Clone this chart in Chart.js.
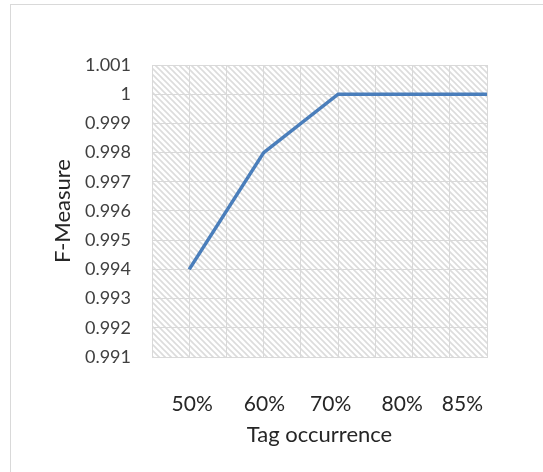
<!DOCTYPE html>
<html>
<head>
<meta charset="utf-8">
<script src="https://cdn.jsdelivr.net/npm/chart.js@4.4.1/dist/chart.umd.min.js"></script>
<style>
  html, body { margin: 0; padding: 0; background: #fff; }
  body { width: 543px; height: 472px; overflow: hidden; position: relative; }
  #frame { position: absolute; left: 10px; top: 4px; width: 620px; height: 540px;
           border: 1.5px solid #d9d9d9; box-sizing: border-box; }
  #wrap { position: absolute; left: 0; top: 0; width: 543px; height: 472px; }
</style>
</head>
<body>
<div id="frame"></div>
<div id="wrap"><canvas id="chart" width="543" height="472"></canvas></div>
<script>
// Tag occurrence thresholds and the F-Measure reached at each
const categories = ['50%', '60%', '70%', '80%', '85%'];
const fMeasure = [0.994, 0.998, 1, 1, 1];
const yTicks = [0.991, 0.992, 0.993, 0.994, 0.995, 0.996, 0.997, 0.998, 0.999, 1, 1.001];

// Category i sits at x = i + 1; vertical gridlines every half step
const gridSteps = [0.5, 1, 1.5, 2, 2.5, 3, 3.5, 4, 4.5, 5];
// Where the category captions are centred along the axis
const captionAt = [1.04, 2.01, 2.9, 3.86, 4.67];

const FONT = 'Lato, "Open Sans", sans-serif';

// Light downward-diagonal hatch for the plot background
function hatchPattern(ctx) {
  const s = 6;
  const c = document.createElement('canvas');
  c.width = s; c.height = s;
  const g = c.getContext('2d');
  g.fillStyle = '#ffffff';
  g.fillRect(0, 0, s, s);
  g.strokeStyle = '#dcdcdc';
  g.lineWidth = 1.6;
  g.beginPath();
  g.moveTo(-1, -1); g.lineTo(s + 1, s + 1);
  g.moveTo(-1, s - 1); g.lineTo(1, s + 1);
  g.moveTo(s - 1, -1); g.lineTo(s + 1, 1);
  g.stroke();
  return ctx.createPattern(c, 'repeat');
}

const hatchPlugin = {
  id: 'hatch',
  beforeDraw(chart) {
    const { ctx, chartArea: a } = chart;
    ctx.save();
    ctx.fillStyle = hatchPattern(ctx);
    ctx.fillRect(a.left, a.top, a.right - a.left, a.bottom - a.top);
    ctx.restore();
  }
};

new Chart(document.getElementById('chart'), {
  type: 'line',
  data: {
    datasets: [{
      data: fMeasure.map((v, i) => ({ x: i + 1, y: v })),
      borderColor: '#4a7ebb',
      borderWidth: 3.5,
      pointRadius: 0,
      tension: 0,
      fill: false,
      clip: false
    }]
  },
  options: {
    responsive: false,
    animation: false,
    events: [],
    layout: { padding: { left: 50, top: 65, right: 56, bottom: 23 } },
    plugins: { legend: { display: false }, tooltip: { enabled: false } },
    scales: {
      x: {
        type: 'linear',
        position: 'bottom',
        weight: 0,
        min: 0.5, max: 5,
        afterBuildTicks: s => { s.ticks = gridSteps.map(v => ({ value: v })); },
        afterFit: s => { s.height = 0; },
        ticks: { display: false },
        grid: { color: '#d9d9d9', lineWidth: 1, drawTicks: false },
        border: { color: '#d9d9d9', width: 1 }
      },
      x2: {
        type: 'linear',
        position: 'bottom',
        weight: 1,
        min: 0.5, max: 5,
        afterBuildTicks: s => { s.ticks = captionAt.map(v => ({ value: v })); },
        afterFit: s => { s.height = 92; },
        ticks: {
          autoSkip: false, maxRotation: 0, padding: 35,
          color: '#262626',
          font: { family: FONT, size: 21 },
          callback: (v, i) => categories[i]
        },
        grid: { display: false, drawTicks: false },
        border: { display: false },
        title: {
          display: true, text: 'Tag occurrence', color: '#262626',
          font: { family: FONT, size: 22 },
          padding: { top: 0, bottom: 1 }
        }
      },
      y: {
        min: 0.991, max: 1.001,
        afterBuildTicks: s => { s.ticks = yTicks.map(v => ({ value: v })); },
        afterFit: s => { s.width = 102; },
        ticks: {
          padding: 21,
          color: '#404040',
          font: { family: FONT, size: 18 },
          callback: v => String(Number(v.toFixed(3)))
        },
        grid: { color: '#d9d9d9', lineWidth: 1, drawTicks: false },
        border: { color: '#d9d9d9', width: 1 },
        title: {
          display: true, text: 'F-Measure', color: '#262626',
          font: { family: FONT, size: 22 },
          padding: { top: 0, bottom: 0 }
        }
      }
    }
  },
  plugins: [hatchPlugin]
});
</script>
</body>
</html>
